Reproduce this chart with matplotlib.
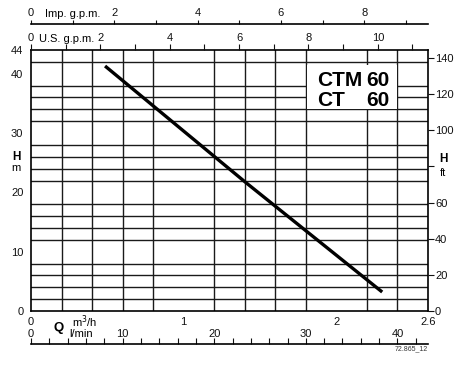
import numpy as np
import matplotlib
matplotlib.use("Agg")
import matplotlib.pyplot as plt
from matplotlib.patches import Rectangle

plt.rcParams['font.family'] = ['Liberation Sans', 'DejaVu Sans']

# ===================== DATA =====================
q_m3h = [0.485, 1.40, 2.30]     # flow, m3/h
h_m   = [41.3, 21.8, 3.2]       # head, m

Q_MAX, H_MAX = 2.6, 44
q_labels   = [0, 1, 2, 2.6]
h_labels   = [0, 10, 20, 30, 40, 44]
ft_ticks   = [0, 20, 40, 60, 80, 100, 120, 140]
ft_labels  = ["0", "20", "40", "60", "", "100", "120", "140"]
imp_labels = [0, 2, 4, 6, 8]
us_labels  = [0, 2, 4, 6, 8, 10]
lmin_labels = [0, 10, 20, 30, 40]

IMP_PER_M3H  = 3.6662
US_PER_M3H   = 4.4029
LMIN_PER_M3H = 1000 / 60
FT_PER_M     = 3.28084
FS = 8

# ===================== LAYOUT =====================
W, H = 462, 367
def fx(x): return x / W
def fy(y): return 1 - y / H

L, R, T, B = 31, 428, 50, 311
fig = plt.figure(figsize=(W / 100, H / 100), dpi=100)
ax = fig.add_axes([fx(L), fy(B), (R - L) / W, (B - T) / H])
ax.set_xlim(0, Q_MAX); ax.set_ylim(0, H_MAX)

ax.set_xticks(np.arange(0, Q_MAX + 0.01, 0.2), minor=True)
ax.set_yticks(np.arange(0, H_MAX + 0.1, 2), minor=True)
ax.grid(which="minor", color="#1a1a1a", lw=1.0)
ax.set_xticks(q_labels)
ax.set_xticklabels(["0", "1", "2", "2.6"])
ax.set_yticks(h_labels)
ax.tick_params(which="both", length=0, labelsize=FS, colors="#111111")
ax.tick_params(axis="x", pad=4.5)
ax.tick_params(axis="y", pad=5.5)
for s in ax.spines.values():
    s.set_linewidth(1.2)

ax.plot(q_m3h, h_m, color="black", lw=2.4, solid_capstyle="butt", zorder=5)

# model label box
ax.add_patch(Rectangle((1.807, 34.1), 0.59, 7.4, facecolor="white",
                       edgecolor="none", zorder=3))
for txt, yy in [("CTM", 38.9), ("CT", 35.5)]:
    ax.text(1.875, yy, txt, fontsize=15, fontweight="bold", ha="left",
            va="center", zorder=6)
    ax.text(2.35, yy, "60", fontsize=15, fontweight="bold", ha="right",
            va="center", zorder=6)

# right axis in feet
axr = ax.twinx()
axr.set_ylim(0, H_MAX * FT_PER_M)
axr.set_yticks(ft_ticks)
axr.set_yticklabels(ft_labels)
axr.tick_params(length=4, width=0.8, pad=1, labelsize=FS, colors="#111111")
for s in axr.spines.values():
    s.set_visible(False)

# helper for the extra scales
def scale_axis(y_px, xmax, ticks, labels, tlen, pad, show_spine=True):
    a = fig.add_axes([fx(L), fy(y_px), (R - L) / W, 0.0001])
    a.set_xlim(0, xmax)
    a.set_yticks([])
    for k, s in a.spines.items():
        s.set_visible(False)
    a.spines["top"].set_visible(show_spine)
    a.spines["top"].set_linewidth(1.2)
    a.patch.set_alpha(0)
    a.xaxis.set_ticks_position("top")
    a.xaxis.set_label_position("top")
    a.set_xticks(ticks)
    a.set_xticklabels([str(v) if v in labels else "" for v in ticks])
    a.tick_params(axis="x", direction="out", length=tlen, width=0.8,
                  pad=pad, labelsize=FS, colors="#111111")
    return a

scale_axis(24, Q_MAX * IMP_PER_M3H, list(range(0, 10)), imp_labels, 3, 1.5)
scale_axis(T, Q_MAX * US_PER_M3H, list(range(0, 12)), us_labels, 4, 1.0,
           show_spine=False)
scale_axis(344, Q_MAX * LMIN_PER_M3H, list(range(0, 43, 2)), lmin_labels, 4, -0.5)

# axis titles
fig.text(fx(16), fy(157), "H", fontsize=8.5, fontweight="bold", ha="center", va="center")
fig.text(fx(16), fy(168), "m", fontsize=FS, ha="center", va="center")
fig.text(fx(443), fy(159), "H", fontsize=8.5, fontweight="bold", ha="center", va="center")
fig.text(fx(443), fy(173), "ft", fontsize=FS, ha="center", va="center")
fig.text(fx(45), fy(14), "Imp. g.p.m.", fontsize=FS, ha="left", va="center")
fig.text(fx(39), fy(39), "U.S. g.p.m.", fontsize=FS, ha="left", va="center")
fig.text(fx(59), fy(328), "Q", fontsize=9.5, fontweight="bold", ha="center", va="center")
fig.text(fx(72), fy(322), "m$^3$/h", fontsize=FS, ha="left", va="center")
fig.text(fx(69), fy(334), "l/min", fontsize=FS, ha="left", va="center")
fig.text(fx(428), fy(349), "72.865_12", fontsize=5, ha="right", va="center",
         color="#333333")

fig.savefig("out.png", dpi=100)
